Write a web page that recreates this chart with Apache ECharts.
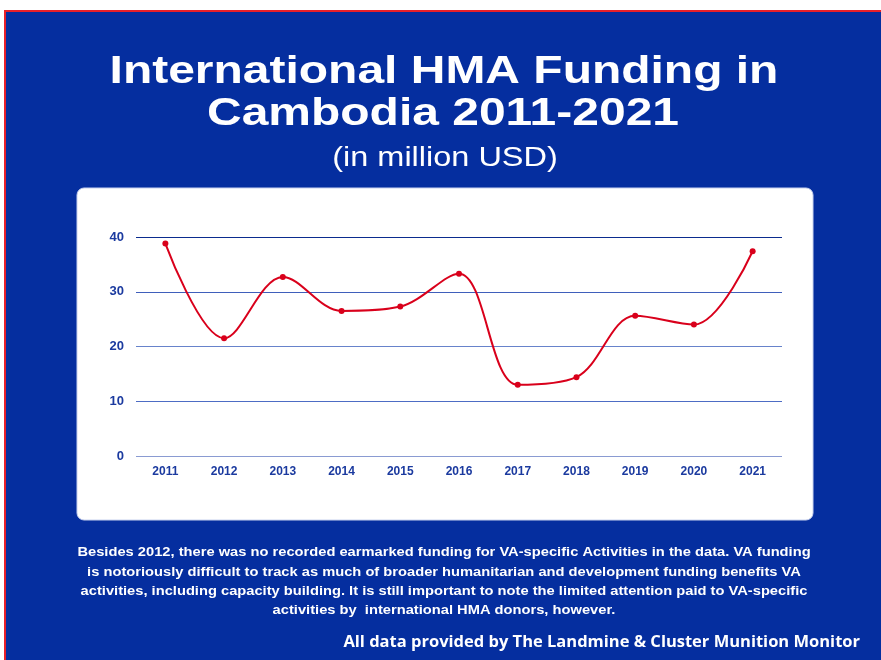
<!DOCTYPE html>
<html>
<head>
<meta charset="utf-8">
<script src="https://cdn.jsdelivr.net/npm/echarts@6/dist/echarts.min.js"></script>
<style>
html,body{margin:0;padding:0;background:#fff;}
#c{width:881px;height:660px;}
</style>
</head>
<body>
<div id="c"></div>
<script>
// ---- data ----
var years = ['2011','2012','2013','2014','2015','2016','2017','2018','2019','2020','2021'];
var funding = [38.8, 21.5, 32.7, 26.5, 27.3, 33.3, 13.0, 14.4, 25.6, 24.0, 37.4];
var yTicks = [0, 10, 20, 30, 40];
var titleLine1 = 'International HMA Funding in';
var titleLine2 = 'Cambodia 2011-2021';
var subtitle = '(in million USD)';
var noteLines = [
  'Besides 2012, there was no recorded earmarked funding for VA-specific Activities in the data. VA funding',
  'is notoriously difficult to track as much of broader humanitarian and development funding benefits VA',
  'activities, including capacity building. It is still important to note the limited attention paid to VA-specific',
  'activities by  international HMA donors, however.'
];
var sourceText = 'All data provided by The Landmine & Cluster Munition Monitor';

var chart = echarts.init(document.getElementById('c'), null, {renderer: 'canvas'});

var BLUE = '#052e9f';
var graphics = [
  {type: 'rect', z: -10, shape: {x: 5, y: 11, width: 878, height: 652}, style: {fill: BLUE, stroke: '#e8202a', lineWidth: 2}},
  {type: 'rect', z: -5, shape: {x: 77, y: 188, width: 736, height: 332, r: 7}, style: {fill: '#ffffff', stroke: '#c9d2ee', lineWidth: 1}},
  {type: 'text', x: 444, y: 72, scaleX: 1.23,
   style: {text: titleLine1, fill: '#fff', font: 'bold 39px "Liberation Sans", Arial, sans-serif', textAlign: 'center', textVerticalAlign: 'middle'}},
  {type: 'text', x: 443, y: 114, scaleX: 1.23,
   style: {text: titleLine2, fill: '#fff', font: 'bold 39px "Liberation Sans", Arial, sans-serif', textAlign: 'center', textVerticalAlign: 'middle'}},
  {type: 'text', x: 445, y: 158, scaleX: 1.16,
   style: {text: subtitle, fill: '#fff', font: '28px "Liberation Sans", Arial, sans-serif', textAlign: 'center', textVerticalAlign: 'middle'}},
  {type: 'text', x: 860, y: 642,
   style: {text: sourceText, fill: '#fff', font: 'bold 16.5px "Open Sans", sans-serif', textAlign: 'right', textVerticalAlign: 'middle'}}
];
var noteY = [553, 573, 592, 611];
noteLines.forEach(function (t, i) {
  graphics.push({type: 'text', x: 444, y: noteY[i], scaleX: 1.175,
    style: {text: t, fill: '#fff', font: 'bold 12.5px "Liberation Sans", Arial, sans-serif', textAlign: 'center', textVerticalAlign: 'middle'}});
});

chart.setOption({
  animation: false,
  backgroundColor: '#ffffff',
  graphic: graphics,
  grid: {left: 136, right: 99, top: 237, bottom: 204, containLabel: false},
  xAxis: {
    type: 'category', data: years, boundaryGap: true,
    axisLine: {show: false}, axisTick: {show: false},
    axisLabel: {color: '#1b3a9f', fontWeight: 'bold', fontSize: 12, fontFamily: 'Liberation Sans, Arial, sans-serif', margin: 10}
  },
  yAxis: {
    type: 'value', min: yTicks[0], max: yTicks[yTicks.length - 1], interval: 10,
    axisLine: {show: false}, axisTick: {show: false},
    axisLabel: {color: '#1b3a9f', fontWeight: 'bold', fontSize: 13, fontFamily: 'Liberation Sans, Arial, sans-serif', margin: 12},
    splitLine: {lineStyle: {color: ['#8a9bd2', '#4d6cc4', '#6783cb', '#3f5fbb', '#0b2c8e'], width: 1}}
  },
  series: [{
    type: 'line', data: funding, smooth: 0.35,
    symbol: 'circle', symbolSize: 6,
    itemStyle: {color: '#d9001b'},
    lineStyle: {color: '#d9001b', width: 2}
  }]
});
</script>
</body>
</html>
